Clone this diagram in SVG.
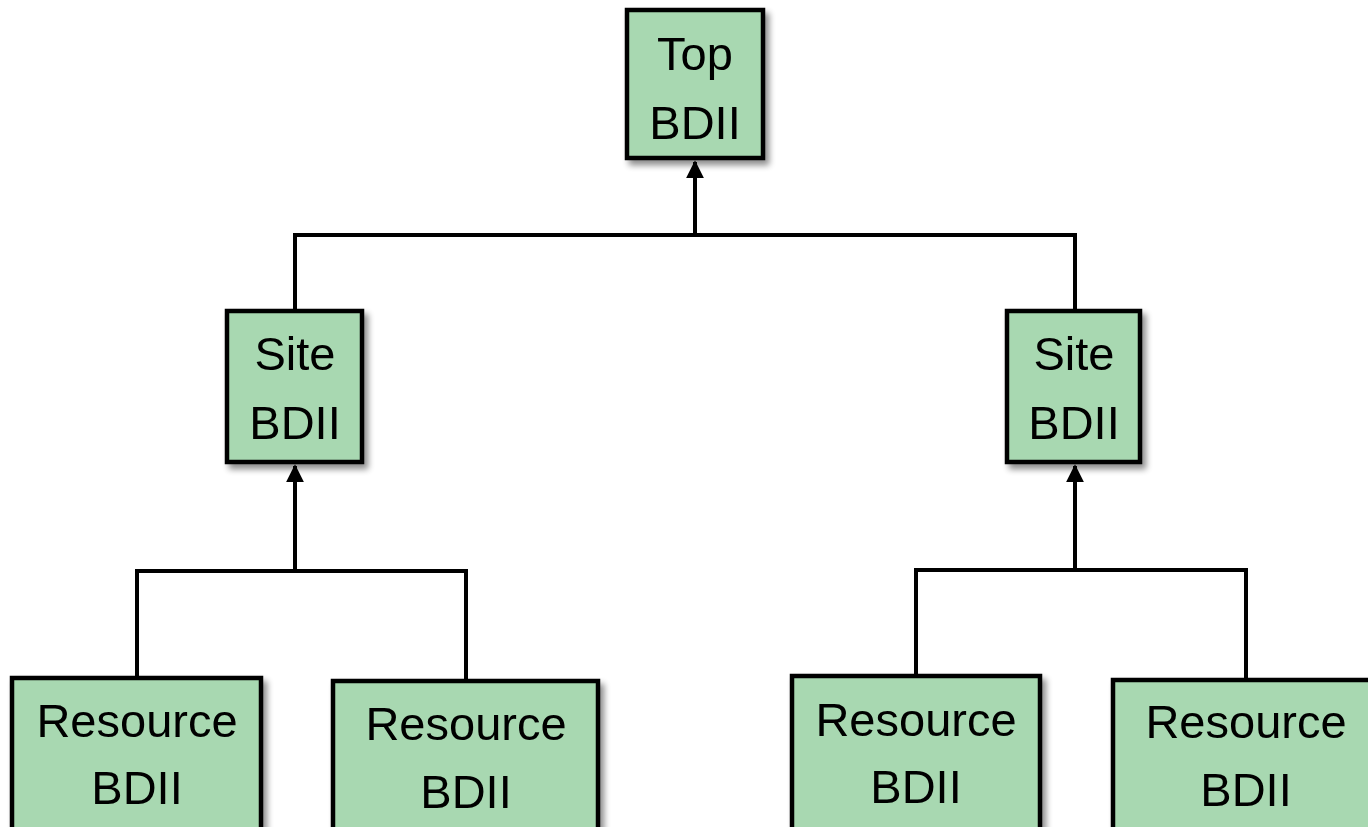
<svg xmlns="http://www.w3.org/2000/svg" width="1368" height="827" viewBox="0 0 1368 827">
<defs>
<filter id="sh" x="-10%" y="-10%" width="130%" height="130%">
<feGaussianBlur in="SourceAlpha" stdDeviation="3"/>
<feOffset dx="4" dy="5" result="b"/>
<feComponentTransfer><feFuncA type="linear" slope="0.45"/></feComponentTransfer>
<feMerge><feMergeNode/><feMergeNode in="SourceGraphic"/></feMerge>
</filter>
<marker id="arr" viewBox="0 0 10 10" refX="9" refY="5" markerWidth="4.5" markerHeight="4.5" orient="auto">
<path d="M0,0 L10,5 L0,10 z" fill="#000"/>
</marker>
</defs>
<style>
.box{fill:#a8d8b1;stroke:#000;stroke-width:4.5}
.lbl{font-family:"Liberation Sans",Arial,sans-serif;font-size:47px;fill:#000;text-anchor:middle}
.ln{fill:none;stroke:#000;stroke-width:4}
</style>
<rect width="1368" height="827" fill="#fff"/>
<g id="connectors">
<path class="ln" d="M295,311 V235 H1075 V311"/>
<path class="ln" d="M695,235 V162" marker-end="url(#arr)"/>
<path class="ln" d="M137,678 V571 H466 V681"/>
<path class="ln" d="M295,571 V466" marker-end="url(#arr)"/>
<path class="ln" d="M916,676 V570 H1246 V680"/>
<path class="ln" d="M1075,570 V466" marker-end="url(#arr)"/>
</g>
<g id="top" filter="url(#sh)">
<rect class="box" x="627" y="10" width="136" height="148"/>
<text class="lbl" x="695" y="70">Top</text>
<text class="lbl" x="695" y="139">BDII</text>
</g>
<g id="site-left" filter="url(#sh)">
<rect class="box" x="227" y="311" width="135" height="151"/>
<text class="lbl" x="295" y="370">Site</text>
<text class="lbl" x="295" y="439">BDII</text>
</g>
<g id="site-right" filter="url(#sh)">
<rect class="box" x="1007" y="311" width="133" height="151"/>
<text class="lbl" x="1074" y="370">Site</text>
<text class="lbl" x="1074" y="439">BDII</text>
</g>
<g id="res1" filter="url(#sh)">
<rect class="box" x="12" y="678" width="249" height="160"/>
<text class="lbl" x="137" y="737">Resource</text>
<text class="lbl" x="137" y="804">BDII</text>
</g>
<g id="res2" filter="url(#sh)">
<rect class="box" x="333" y="681" width="265" height="160"/>
<text class="lbl" x="466" y="740">Resource</text>
<text class="lbl" x="466" y="808">BDII</text>
</g>
<g id="res3" filter="url(#sh)">
<rect class="box" x="792" y="676" width="248" height="160"/>
<text class="lbl" x="916" y="736">Resource</text>
<text class="lbl" x="916" y="803">BDII</text>
</g>
<g id="res4" filter="url(#sh)">
<rect class="box" x="1113" y="680" width="262" height="160"/>
<text class="lbl" x="1246" y="738">Resource</text>
<text class="lbl" x="1246" y="806">BDII</text>
</g>
</svg>
